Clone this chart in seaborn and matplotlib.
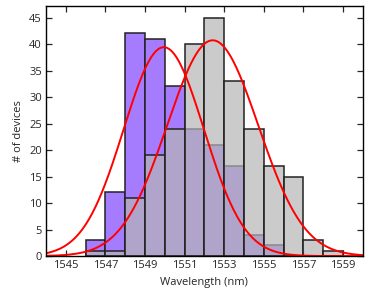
import numpy as np
import pandas as pd
import seaborn as sns
import matplotlib.pyplot as plt

# histogram counts per 1 nm bin (left edge = bin start)
bin_starts = [1546, 1547, 1548, 1549, 1550, 1551, 1552, 1553, 1554, 1555, 1556, 1557, 1558]
purple_counts = [3, 12, 42, 41, 32, 24, 21, 17, 4, 2, 0, 0, 0]
gray_counts = [1, 1, 11, 19, 24, 40, 45, 33, 24, 17, 15, 3, 1]

# gaussian fits (amplitude, centre, sigma)
purple_fit = (39.4, 1549.95, 2.03)
gray_fit = (40.7, 1552.42, 2.3)

x_ticks = [1545, 1547, 1549, 1551, 1553, 1555, 1557, 1559]
y_ticks = [0, 5, 10, 15, 20, 25, 30, 35, 40, 45]

sns.set_style("ticks")
plt.rcParams['font.family'] = ['Open Sans', 'DejaVu Sans']

df = pd.DataFrame({
    'center': np.array(bin_starts) + 0.5,
    'purple': purple_counts,
    'gray': gray_counts,
})
edges = list(bin_starts) + [bin_starts[-1] + 1]

fig = plt.figure(figsize=(3.74, 2.92), dpi=100)
ax = fig.add_axes([0.123, 0.123, 0.847, 0.857])

sns.histplot(data=df, x='center', weights='purple', bins=edges, ax=ax,
             color='#a67cff', alpha=1, edgecolor='#222222', linewidth=1.1)
sns.histplot(data=df, x='center', weights='gray', bins=edges, ax=ax,
             color='#b6b6b6', alpha=0.7, edgecolor='#222222', linewidth=1.1)

xs = np.linspace(1544, 1560, 400)
for amp, mu, sig in (purple_fit, gray_fit):
    sns.lineplot(x=xs, y=amp * np.exp(-(xs - mu) ** 2 / (2 * sig ** 2)), ax=ax,
                 color='#ff0000', linewidth=1.4)

ax.set_xlim(1544, 1560)
ax.set_ylim(0, 47.2)
ax.set_xticks(x_ticks)
ax.set_yticks(y_ticks)
ax.tick_params(direction='in', top=True, right=True, length=4, width=0.9,
               labelsize=8, pad=3)
for s in ax.spines.values():
    s.set_linewidth(1.0)
    s.set_color('black')
ax.set_xlabel('Wavelength (nm)', fontsize=8, labelpad=4)
ax.set_ylabel('# of devices', fontsize=8, labelpad=4)

fig.savefig('out.png', dpi=100)
